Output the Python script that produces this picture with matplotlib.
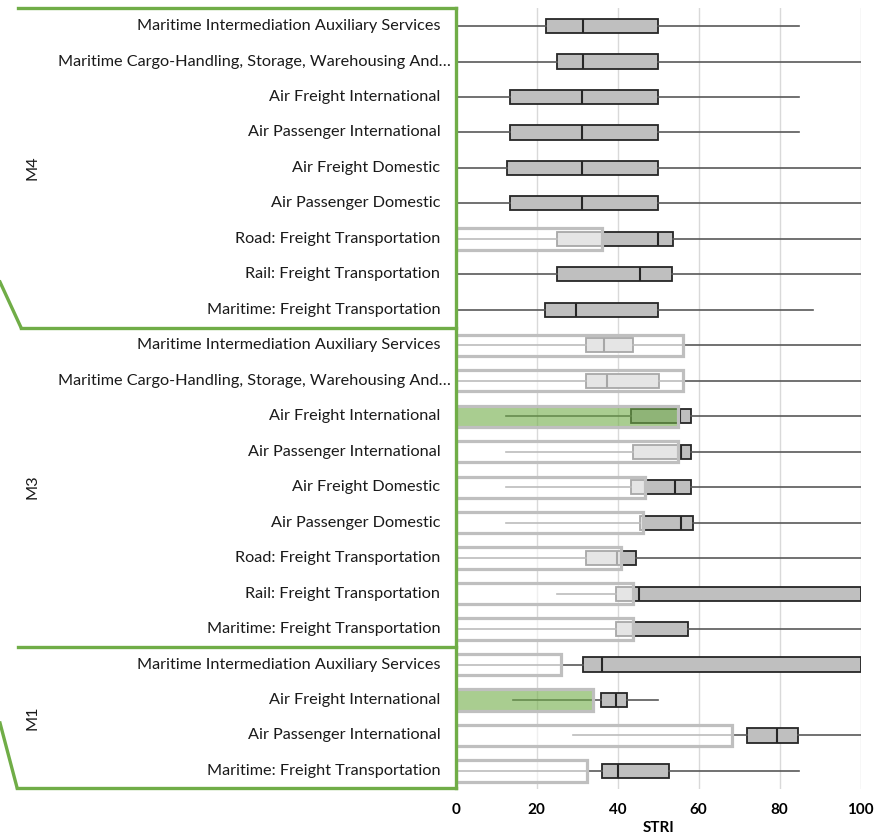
import matplotlib
matplotlib.use("Agg")
import matplotlib.pyplot as plt
from matplotlib.lines import Line2D
from matplotlib.transforms import ScaledTranslation
import numpy as np

plt.rcParams["font.family"] = ["Lato", "DejaVu Sans"]

# ---------------- data ----------------
groups = ["M4", "M3", "M1"]
group_sizes = [9, 9, 4]

categories = [
    # M4
    "Maritime Intermediation Auxiliary Services",
    "Maritime Cargo-Handling, Storage, Warehousing And…",
    "Air Freight International",
    "Air Passenger International",
    "Air Freight Domestic",
    "Air Passenger Domestic",
    "Road: Freight Transportation",
    "Rail: Freight Transportation",
    "Maritime: Freight Transportation",
    # M3
    "Maritime Intermediation Auxiliary Services",
    "Maritime Cargo-Handling, Storage, Warehousing And…",
    "Air Freight International",
    "Air Passenger International",
    "Air Freight Domestic",
    "Air Passenger Domestic",
    "Road: Freight Transportation",
    "Rail: Freight Transportation",
    "Maritime: Freight Transportation",
    # M1
    "Maritime Intermediation Auxiliary Services",
    "Air Freight International",
    "Air Passenger International",
    "Maritime: Freight Transportation",
]

stri_min = [0, 0, 0, 0, 0, 0, 0, 0, 0,
            0, 0, 12.4, 12.4, 12.4, 12.4, 0, 24.9, 0,
            0, 14.2, 28.9, 0]
stri_q1 = [22.2, 25.0, 13.4, 13.4, 12.6, 13.4, 24.9, 24.9, 22.0,
           32.1, 32.1, 43.4, 43.8, 43.4, 45.5, 32.1, 39.6, 39.5,
           31.4, 35.9, 71.9, 36.0]
stri_median = [31.5, 31.5, 31.3, 31.3, 31.3, 31.3, 50.0, 45.5, 29.6,
               36.5, 37.4, 55.4, 55.6, 54.2, 55.6, 39.8, 45.2, 43.8,
               36.1, 39.6, 79.3, 40.0]
stri_q3 = [50.0, 50.0, 50.0, 50.0, 50.0, 50.0, 53.6, 53.3, 50.0,
           43.8, 50.1, 58.0, 58.0, 58.0, 58.6, 44.4, 100, 57.3,
           100, 42.2, 84.4, 52.7]
stri_max = [84.8, 100, 84.8, 84.8, 100, 100, 100, 100, 88.3,
            100, 100, 100, 100, 100, 100, 100, 100, 100,
            100, 50.0, 100, 84.8]

# country value (bar); None = no bar
country_value = [None, None, None, None, None, None, 36.2, None, None,
                 56.0, 56.0, 54.8, 54.8, 46.7, 46.2, 40.9, 43.8, 43.8,
                 26.0, 34.0, 68.1, 32.3]
highlight = [False] * 9 + [False, False, True, False, False, False, False, False, False] + \
            [False, True, False, False]

xticks = [0, 20, 40, 60, 80, 100]
xlabel = "STRI"

# ---------------- figure ----------------
W, H = 890, 839
fig = plt.figure(figsize=(W / 100, H / 100), dpi=100)
ax_left, ax_right, ax_top, ax_bot = 455.7, 860.7, 8.3, 788.7
ax = fig.add_axes([ax_left / W, 1 - ax_bot / H, (ax_right - ax_left) / W, (ax_bot - ax_top) / H])

n = len(categories)
pos = np.arange(n)[::-1]  # first row at top

stats = []
for i in range(n):
    stats.append(dict(whislo=stri_min[i], q1=stri_q1[i], med=stri_median[i],
                      q3=stri_q3[i], whishi=stri_max[i], fliers=[]))

ax.bxp(stats, positions=pos, orientation="horizontal", widths=0.4,
       patch_artist=True, showcaps=False, showfliers=False,
       boxprops=dict(facecolor="#bfbfbf", edgecolor="#262626", linewidth=1.3),
       medianprops=dict(color="#262626", linewidth=1.5),
       whiskerprops=dict(color="#595959", linewidth=1.2),
       manage_ticks=False, zorder=2)

bar_pos = [pos[i] for i in range(n) if country_value[i] is not None]
bar_val = [country_value[i] for i in range(n) if country_value[i] is not None]
bar_col = [((0.439, 0.678, 0.278, 0.6) if highlight[i] else (1, 1, 1, 0.6))
           for i in range(n) if country_value[i] is not None]
ax.barh(bar_pos, bar_val, height=0.6, color=bar_col, edgecolor="#bfbfbf",
        linewidth=2.3, zorder=3)

ax.set_xlim(0, 100)
ax.set_ylim(-0.5, n - 0.5)
ax.set_xticks(xticks)
ax.set_xticklabels([str(t) for t in xticks], fontsize=11, fontweight="bold", color="#000000")
ax.tick_params(axis="x", length=0, pad=10.5)
ax.set_yticks([])
ax.xaxis.grid(True, color="#d9d9d9", linewidth=1.0)
ax.set_axisbelow(True)
for s in ax.spines.values():
    s.set_visible(False)
ax.set_xlabel(xlabel, fontsize=11, fontweight="bold", labelpad=3)

# category labels
base = ax.get_yaxis_transform()
for i, c in enumerate(categories):
    dx = -15.5 if not c.endswith("…") else -4.5
    tr = base + ScaledTranslation(dx / 100, 0, fig.dpi_scale_trans)
    ax.text(0, pos[i], c, transform=tr, ha="right", va="center",
            fontsize=11.7, color="#1a1a1a", clip_on=False)

# group labels
start = 0
for g, sz in zip(groups, group_sizes):
    yc = (pos[start] + pos[start + sz - 1]) / 2
    fig_y = ax.transData.transform((0, yc))[1] / H
    fig.text(32 / W, fig_y, g, rotation=90, ha="center", va="center",
             fontsize=11.7, color="#1a1a1a")
    start += sz

# green bracket outline (figure pixel coordinates)
green = "#70ad47"
def seg(x0, y0, x1, y1):
    fig.add_artist(Line2D([x0 / W, x1 / W], [1 - y0 / H, 1 - y1 / H],
                          transform=fig.transFigure, color=green,
                          linewidth=2.4, solid_capstyle="projecting", zorder=5))

sep1 = (ax.transData.transform((0, pos[8] - 0.5))[1])
sep2 = (ax.transData.transform((0, pos[17] - 0.5))[1])
y_sep1 = H - sep1
y_sep2 = H - sep2
seg(18, 8.3, 455.5, 8.3)
seg(455.5, 8.3, 455.5, 787.5)
seg(21, y_sep1, 455.5, y_sep1)
seg(0, 282, 21, y_sep1)
seg(18, y_sep2, 455.5, y_sep2)
seg(17, 787.5, 455.5, 787.5)
seg(0, 723, 17, 787.5)

fig.savefig("out.png", dpi=100)
